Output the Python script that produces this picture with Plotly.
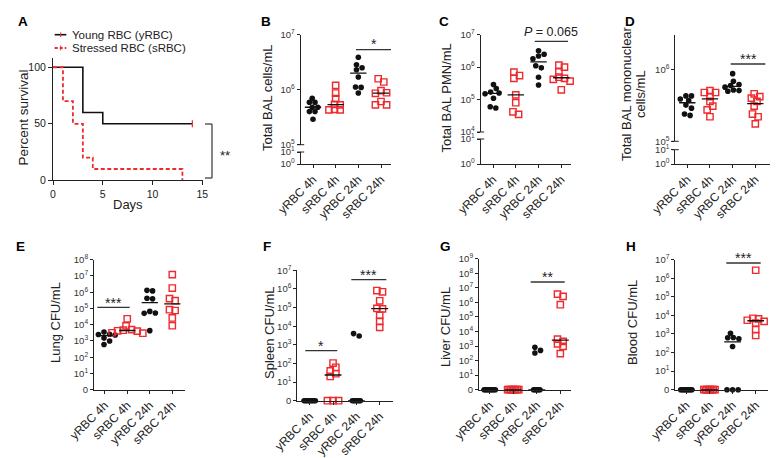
import numpy as np
import plotly.graph_objects as go

W, H = 778, 458
FONT = "Liberation Sans, Arial, Helvetica, sans-serif"
BLACK = "#111111"
RED = "#ee2a2f"
AXC = "#222222"

# ---------------- data ----------------
days_young = [0, 3, 5, 14]
surv_young = [100, 60, 50, 50]
days_stressed = [0, 1, 2, 3, 4, 13]
surv_stressed = [100, 70, 50, 20, 10, 0]
legend_labels = ["Young RBC (yRBC)", "Stressed RBC (sRBC)"]

groups = ["yRBC 4h", "sRBC 4h", "yRBC 24h", "sRBC 24h"]

B_y4 = [7.0e5, 5.9e5, 5.9e5, 4.8e5, 4.8e5, 4.0e5, 4.0e5, 2.9e5]
B_s4 = [1.2e6, 8.7e5, 6.9e5, 5.4e5, 5.3e5, 4.4e5, 4.3e5, 4.3e5]
B_y24 = [3.9e6, 2.85e6, 2.5e6, 2.3e6, 1.7e6, 1.12e6, 1.1e6, 8.7e5]
B_s24 = [1.58e6, 1.38e6, 9.6e5, 8.8e5, 8.6e5, 6.1e5, 5.3e5, 5.3e5]

C_y4 = [2.9e5, 2.2e5, 1.7e5, 1.6e5, 1.5e5, 1.1e5, 6.0e4, 5.5e4]
C_s4 = [7.0e5, 5.5e5, 4.5e5, 1.4e5, 8.0e4, 4.2e4, 3.5e4]
C_y24 = [3.2e6, 2.5e6, 2.2e6, 1.8e6, 1.1e6, 9.5e5, 4.9e5, 2.8e5]
C_s24 = [1.15e6, 1.0e6, 7.1e5, 4.9e5, 4.5e5, 4.2e5, 3.7e5, 2.0e5]

D_y4 = [4.3e5, 4.3e5, 3.9e5, 3.7e5, 3.2e5, 2.9e5, 2.4e5, 2.3e5]
D_s4 = [5.1e5, 4.8e5, 4.8e5, 4.2e5, 3.6e5, 3.1e5, 2.75e5, 2.2e5]
D_y24 = [8.8e5, 6.9e5, 6.2e5, 6.0e5, 5.7e5, 5.2e5, 5.1e5, 5.0e5]
D_s24 = [4.6e5, 4.2e5, 4.0e5, 3.6e5, 3.1e5, 2.4e5, 2.2e5, 1.75e5]

E_y4 = [3.5e3, 2.6e3, 2.5e3, 2.3e3, 2.0e3, 1.5e3, 1.0e3, 6.0e2]
E_s4 = [2.3e4, 8.5e3, 5.0e3, 4.6e3, 4.2e3, 4.0e3, 3.2e3, 3.0e3]
E_y24 = [1.3e6, 1.2e6, 4.2e5, 3.9e5, 6.6e4, 5.2e4, 5.0e4, 4.3e3]
E_s24 = [1.2e7, 1.8e6, 4.0e5, 3.0e5, 8.4e4, 7.5e4, 2.6e4, 8.7e3]

F_y4 = [0, 0, 0, 0, 0, 0, 0, 0]
F_s4 = [105, 62, 40, 28, 20, 0, 0, 0]
F_y24 = [4.0e3, 3.0e3, 0, 0, 0, 0, 0, 0]
F_s24 = [8.2e5, 7.0e5, 2.3e5, 9.0e4, 8.5e4, 3.8e4, 1.8e4, 8.7e3]

G_y4 = [0, 0, 0, 0, 0, 0, 0, 0]
G_s4 = [0, 0, 0, 0, 0, 0, 0, 0]
G_y24 = [8.1e2, 5.0e2, 3.3e2, 0, 0, 0, 0, 0]
G_s24 = [3.7e6, 2.6e6, 6.9e5, 3.0e3, 2.1e3, 1.4e3, 9.5e2, 3.0e2]

H_y4 = [0, 0, 0, 0, 0, 0, 0, 0]
H_s4 = [0, 0, 0, 0, 0, 0, 0, 0]
H_y24 = [1.1e3, 6.5e2, 6.3e2, 5.5e2, 2.1e2, 0, 0, 0]
H_s24 = [2.7e6, 7.0e3, 6.5e3, 5.5e3, 4.8e3, 3.9e3, 1.7e3, 8.3e2]

y_titles = {
    "A": "Percent survival",
    "B": "Total BAL cells/mL",
    "C": "Total BAL PMN/mL",
    "D": ["Total BAL mononuclear", "cells/mL"],
    "E": "Lung CFU/mL",
    "F": "Spleen CFU/mL",
    "G": "Liver CFU/mL",
    "H": "Blood CFU/mL",
}
sig_labels = {"A": "**", "B": "*", "C": "<i>P</i> = 0.065", "D": "***",
              "E": "***", "F1": "*", "F2": "***", "G": "**", "H": "***"}

panel_data = {
    "B": [B_y4, B_s4, B_y24, B_s24],
    "C": [C_y4, C_s4, C_y24, C_s24],
    "D": [D_y4, D_s4, D_y24, D_s24],
    "E": [E_y4, E_s4, E_y24, E_s24],
    "F": [F_y4, F_s4, F_y24, F_s24],
    "G": [G_y4, G_s4, G_y24, G_s24],
    "H": [H_y4, H_s4, H_y24, H_s24],
}

# ---------------- layout geometry (pixels) ----------------
GEO = {
    "B": dict(i=2, yl=9, ax=292.7, cats=[305, 327.7, 350, 373], xend=383, top=(26.7, 7), bot=(136.7, 5), low=(144.0, 156.0)),
    "C": dict(i=3, yl=10, ax=472.7, cats=[485, 507.7, 530, 553.3], xend=563.3, top=(26.7, 7), bot=(124.0, 4), low=(131.0, 156.0)),
    "D": dict(i=4, yl=11, ax=667.3, cats=[679.3, 701.7, 724.3, 747.3], xend=765, top=(26.7, 6.488), bot=(133.3, 5), low=(141.7, 156.0)),
    "E": dict(i=5, ax=86, cats=[96.7, 119.3, 141.7, 164.3], xend=176.7, top=(251.7, 8), bot=(381.7, 0)),
    "F": dict(i=6, ax=289.3, cats=[301.7, 325, 348.3, 371.7], xend=385, top=(262.3, 7), bot=(392.7, 0)),
    "G": dict(i=7, ax=471, cats=[481.7, 504.3, 528.3, 552.3], xend=563.3, top=(250.7, 9), bot=(381.7, 0)),
    "H": dict(i=8, ax=667.3, cats=[678.3, 701.7, 725, 747.7], xend=760, top=(251.7, 7), bot=(381.7, 0)),
}


def xd(px):
    return px / W


def yd(py):
    return 1 - py / H


def sfx(i):
    return "" if i == 1 else str(i)


def axis_common(**kw):
    d = dict(showline=True, linecolor=AXC, linewidth=1, ticks="outside", ticklen=3,
             tickwidth=1, tickcolor=AXC, showgrid=False, zeroline=False,
             automargin=False, fixedrange=True, tickfont=dict(size=9.5, color="#333"))
    d.update(kw)
    return d


def sup(n):
    return "10<sup>%d</sup>" % n


def swarm(vals, ppd, ppc, d=5.6, tight=1.6):
    v = np.asarray(vals, dtype=float)
    ypx = np.log10(np.where(v > 0, v, 1.0)) * ppd
    order = list(np.argsort(-ypx, kind="stable"))
    off = np.zeros(len(v))
    clusters, cur = [], [order[0]]
    for a, b in zip(order[:-1], order[1:]):
        if ypx[a] - ypx[b] < d:
            cur.append(b)
        else:
            clusters.append(cur)
            cur = [b]
    clusters.append(cur)
    for cl in clusters:
        n = len(cl)
        ys = ypx[cl]
        if n > 3 and np.ptp(ys) < 1e-9:
            offs = (np.arange(n) - (n - 1) / 2) * tight
        else:
            placed, offs = [], []
            for i in cl:
                k = 0
                while True:
                    cand = ((k + 1) // 2) * (d / 2) * (1 if k % 2 == 1 else -1)
                    if all((cand - px) ** 2 + (ypx[i] - py) ** 2 >= (0.85 * d) ** 2 for px, py in placed):
                        break
                    k += 1
                placed.append((cand, ypx[i]))
                offs.append(cand)
            offs = np.array(offs) - np.mean(offs)
        off[cl] = offs
    return off / ppc


fig = go.Figure()
axes = {}
annotations = []
shapes = []


def text(t, x, y, size=13, angle=0, xanchor="center", yanchor="middle", color="#222", bold=False):
    if bold:
        t = "<b>%s</b>" % t
    annotations.append(dict(text=t, x=xd(x), y=yd(y), xref="paper", yref="paper",
                            showarrow=False, textangle=angle, xanchor=xanchor, yanchor=yanchor,
                            font=dict(size=size, color=color, family=FONT)))


def pline(x0, y0, x1, y1, color="#333", width=1.2, dash=None):
    s = dict(type="line", xref="paper", yref="paper", x0=xd(x0), y0=yd(y0), x1=xd(x1), y1=yd(y1),
             line=dict(color=color, width=width))
    if dash:
        s["line"]["dash"] = dash
    shapes.append(s)


# ---------------- Panel A ----------------
axes["xaxis"] = axis_common(domain=[xd(45), xd(195)], range=[0, 15.07], tickvals=[0, 5, 10, 15],
                            anchor="y", ticklen=4, tickfont=dict(size=10.5, color="#222"))
axes["yaxis"] = axis_common(domain=[yd(172.3), yd(50)], range=[0, 108.2], tickvals=[0, 50, 100],
                            anchor="x", ticklen=4, tickfont=dict(size=10.5, color="#222"))
fig.add_trace(go.Scatter(x=days_young, y=surv_young, mode="lines", name=legend_labels[0],
                         line=dict(color=BLACK, width=1.6, shape="hv"), xaxis="x", yaxis="y", cliponaxis=False))
fig.add_trace(go.Scatter(x=days_stressed, y=surv_stressed, mode="lines", name=legend_labels[1],
                         line=dict(color=RED, width=1.8, shape="hv", dash="4px,2.5px"),
                         xaxis="x", yaxis="y", cliponaxis=False))
fig.add_trace(go.Scatter(x=[days_young[-1]], y=[surv_young[-1]], mode="markers",
                         marker=dict(symbol="line-ns", size=5, line=dict(color=RED, width=1.2)),
                         xaxis="x", yaxis="y", cliponaxis=False))
# legend (drawn)
pline(46.7, 26.7, 58.3, 26.7, color=BLACK, width=1.6)
pline(52.7, 24.3, 52.7, 29.1, color=RED, width=1)
pline(46.7, 40, 58.3, 40, color=RED, width=1.8, dash="3px,2px")
pline(52.7, 37.6, 52.7, 42.4, color=RED, width=1)
text(legend_labels[0], 61.7, 26.7, size=11.5, xanchor="left")
text(legend_labels[1], 61.7, 40.3, size=11.5, xanchor="left")
# bracket
pline(204, 116, 204, 170, color="#333", width=1.2)
pline(197, 116, 204, 116, color="#333", width=1.2)
pline(197, 170, 204, 170, color="#333", width=1.2)
text(sig_labels["A"], 217, 147, size=13)
text(y_titles["A"], 14.5, 110, size=13.5, angle=-90)
text("Days", 120, 196, size=13)

# ---------------- dot panels ----------------
for key, g in GEO.items():
    i = g["i"]
    cats = g["cats"]
    ppc = (cats[3] - cats[0]) / 3.0
    x0 = -(cats[0] - g["ax"]) / ppc
    x1 = 3 + (g["xend"] - cats[3]) / ppc
    (ptop, ltop), (pbot, lbot) = g["top"], g["bot"]
    ppd = (pbot - ptop) / (ltop - lbot)
    broken = "yl" in g
    xname, yname = "x" + sfx(i), "y" + sfx(i)
    anchor_y = ("y" + str(g["yl"])) if broken else yname
    axes["xaxis" + sfx(i)] = axis_common(
        domain=[xd(g["ax"]), xd(g["xend"])], range=[x0, x1], tickvals=[0, 1, 2, 3], ticktext=groups,
        tickangle=-45, anchor=anchor_y, tickfont=dict(size=12, color="#222"))
    if broken:
        pow_ = list(range(int(np.ceil(lbot)), int(np.floor(ltop)) + 1))
        axes["yaxis" + sfx(i)] = axis_common(
            domain=[yd(pbot), yd(ptop)], type="log", range=[lbot, ltop],
            tickvals=[10.0 ** p for p in pow_], ticktext=[sup(p) for p in pow_], anchor=xname)
        lt, lb = g["low"]
        lowname = "y" + str(g["yl"])
        axes["yaxis" + str(g["yl"])] = axis_common(
            domain=[yd(lb), yd(lt)], type="log", range=[0, 1],
            tickvals=[1, 10], ticktext=[sup(0), sup(1)], anchor=xname)
        # empty trace so that the lower (broken) segment subplot is created
        fig.add_trace(go.Scatter(x=[], y=[], mode="markers", xaxis=xname, yaxis=lowname,
                                 showlegend=False, hoverinfo="skip"))
        # break marks
        pline(g["ax"] - 3.5, pbot, g["ax"] + 3.5, pbot, color=AXC, width=1)
        pline(g["ax"] - 3.5, lt, g["ax"] + 3.5, lt, color=AXC, width=1)
    else:
        pow_ = list(range(0, int(ltop) + 1))
        axes["yaxis" + sfx(i)] = axis_common(
            domain=[yd(pbot), yd(ptop)], type="log", range=[0, ltop],
            tickvals=[10.0 ** p for p in pow_], ticktext=["0"] + [sup(p) for p in pow_[1:]], anchor=xname)

    for gi, vals in enumerate(panel_data[key]):
        off = swarm(vals, ppd, ppc)
        yplot = [v if v > 0 else 1.0 for v in vals]
        if gi % 2 == 0:
            marker = dict(symbol="circle", size=5.6, color=BLACK, line=dict(width=0))
        else:
            marker = dict(symbol="square-open", size=6.3, color=RED, line=dict(width=1.4, color=RED))
        fig.add_trace(go.Scatter(x=gi + off, y=yplot, mode="markers", marker=marker, name=groups[gi],
                                 xaxis=xname, yaxis=yname, cliponaxis=False))
    for gi, vals in enumerate(panel_data[key]):
        med = float(np.median(vals))
        ym = med if med > 0 else 1.0
        fig.add_trace(go.Scatter(x=[gi - 0.36, gi + 0.36], y=[ym, ym], mode="lines",
                                 line=dict(color=BLACK, width=1.3), xaxis=xname, yaxis=yname,
                                 cliponaxis=False, hoverinfo="skip"))

# significance bars (pixels)
SIG = [
    ("B", 348, 383, 41.7, 36),
    ("C", 526.7, 560, 33.3, 24.5),
    ("D", 722.7, 757.3, 56, 50.5),
    ("E", 89.3, 121.7, 299.3, 294.5),
    ("F1", 297.3, 329.3, 342.7, 338),
    ("F2", 343.3, 378.3, 271.7, 266.5),
    ("G", 522.7, 556.7, 274, 269),
    ("H", 718.3, 752.7, 255, 250),
]
for k, xa, xb, yl, yt in SIG:
    pline(xa, yl, xb, yl, color="#333", width=1.3)
    text(sig_labels[k], (xa + xb) / 2, yt, size=(12.5 if k == "C" else 14))

# y titles
text(y_titles["B"], 259, 90, angle=-90)
text(y_titles["C"], 437.5, 90, angle=-90)
text(y_titles["D"][0], 618, 86, angle=-90)
text(y_titles["D"][1], 632, 86, angle=-90)
text(y_titles["E"], 47, 315, angle=-90)
text(y_titles["F"], 261, 325, angle=-90)
text(y_titles["G"], 437, 319, angle=-90)
text(y_titles["H"], 624, 315, angle=-90)

# panel letters
for L, (x, y) in {"A": (14.5, 14), "B": (258, 14), "C": (436, 14), "D": (622, 13),
                  "E": (13, 238), "F": (259, 238), "G": (437, 238), "H": (623, 238)}.items():
    text(L, x, y, size=13.5, bold=True, color="#000")

fig.update_layout(
    template="none", width=W, height=H, margin=dict(l=0, r=0, t=0, b=0, pad=0),
    paper_bgcolor="white", plot_bgcolor="rgba(0,0,0,0)", showlegend=False,
    font=dict(family=FONT, color="#222"), annotations=annotations, shapes=shapes, **axes)
fig.write_html("out.html")
